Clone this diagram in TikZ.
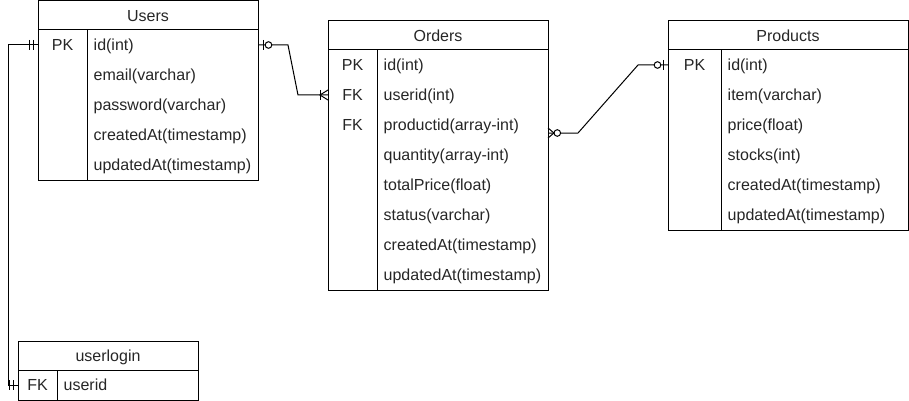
\documentclass[tikz,border=0pt]{standalone}
\usepackage{fontspec}
\setmainfont{Liberation Sans}
\usetikzlibrary{calc}
\begin{document}
\begin{tikzpicture}[x=1pt,y=-1pt,
  box/.style={draw=black, line width=1pt, anchor=north west, inner sep=0pt, outer sep=0pt},
  hdrtxt/.style={anchor=base, inner sep=0pt, font=\fontsize{16}{19}\selectfont, text=black!85},
  fld/.style={anchor=base west, inner sep=0pt, font=\fontsize{16}{19}\selectfont, text=black!85},
  keytxt/.style={anchor=base, inner sep=0pt, font=\fontsize{16}{19}\selectfont, text=black!85},
  rowspan/.style={inner sep=0pt, outer sep=0pt, minimum height=30pt},
  conn/.style={draw=black, line width=1pt},
  ermark/.style={draw=black, line width=1pt},
  ring/.style={draw=black, line width=1pt, fill=white}
]
\useasboundingbox (0,0) rectangle (909,401);

% ---------- Users ----------
\node[box, minimum width=220pt, minimum height=29pt] (usersH) at (38,1) {};
\node[box, minimum width=220pt, minimum height=150pt] (usersB) at (38,30) {};
\draw[line width=1pt] (87,30) -- (87,180);
\node[hdrtxt] (usersT) at (148,21.3) {Users};
\node[rowspan, minimum width=220pt] (u1) at (148,45) {};
\node[keytxt] (u1k) at (62.5,50.8) {PK};
\node[fld] (u1t) at (93.5,50.8) {id(int)};
\node[fld] (u2t) at (93.5,80.8) {email(varchar)};
\node[fld] (u3t) at (93.5,110.8) {password(varchar)};
\node[fld] (u4t) at (93.5,140.8) {createdAt(timestamp)};
\node[fld] (u5t) at (93.5,170.8) {updatedAt(timestamp)};

% ---------- Orders ----------
\node[box, minimum width=220pt, minimum height=29pt] (ordersH) at (328,21) {};
\node[box, minimum width=220pt, minimum height=240pt] (ordersB) at (328,50) {};
\draw[line width=1pt] (377,50) -- (377,290);
\node[hdrtxt] (ordersT) at (438,41.3) {Orders};
\node[rowspan, minimum width=220pt] (o2) at (438,95) {};
\node[rowspan, minimum width=220pt] (o3) at (438,125) {};
\node[keytxt] (o1k) at (352.5,70.8) {PK};
\node[keytxt] (o2k) at (352.5,100.8) {FK};
\node[keytxt] (o3k) at (352.5,130.8) {FK};
\node[fld] (o1t) at (383.5,70.8) {id(int)};
\node[fld] (o2t) at (383.5,100.8) {userid(int)};
\node[fld] (o3t) at (383.5,130.8) {productid(array-int)};
\node[fld] (o4t) at (383.5,160.8) {quantity(array-int)};
\node[fld] (o5t) at (383.5,190.8) {totalPrice(float)};
\node[fld] (o6t) at (383.5,220.8) {status(varchar)};
\node[fld] (o7t) at (383.5,250.8) {createdAt(timestamp)};
\node[fld] (o8t) at (383.5,280.8) {updatedAt(timestamp)};

% ---------- Products ----------
\node[box, minimum width=240pt, minimum height=29pt] (prodH) at (668,21) {};
\node[box, minimum width=240pt, minimum height=180pt] (prodB) at (668,50) {};
\draw[line width=1pt] (721,50) -- (721,230);
\node[hdrtxt] (prodT) at (788,41.3) {Products};
\node[rowspan, minimum width=240pt] (p1) at (788,65) {};
\node[keytxt] (p1k) at (694.5,70.8) {PK};
\node[fld] (p1t) at (727.5,70.8) {id(int)};
\node[fld] (p2t) at (727.5,100.8) {item(varchar)};
\node[fld] (p3t) at (727.5,130.8) {price(float)};
\node[fld] (p4t) at (727.5,160.8) {stocks(int)};
\node[fld] (p5t) at (727.5,190.8) {createdAt(timestamp)};
\node[fld] (p6t) at (727.5,220.8) {updatedAt(timestamp)};

% ---------- userlogin ----------
\node[box, minimum width=180pt, minimum height=29pt] (loginH) at (18,341) {};
\node[box, minimum width=180pt, minimum height=30pt] (loginB) at (18,370) {};
\draw[line width=1pt] (57,370) -- (57,400);
\node[hdrtxt] (loginT) at (108,361.3) {userlogin};
\node[rowspan, minimum width=180pt] (l1) at (108,385) {};
\node[keytxt] (l1k) at (37.5,390.8) {FK};
\node[fld] (l1t) at (63.5,390.8) {userid};

% ---------- connectors ----------
\draw[conn] (u1.east) -- ++(30,0) -- ($(o2.west)+(-30,0)$) -- (o2.west);
\draw[conn] ([yshift=-8pt]o3.east) -- ++(30,0) -- ($(p1.west)+(-30,0)$) -- (p1.west);
\draw[conn] (u1.west) -- ++(-30,0) |- (l1.west);

% Users end: zero or one
\draw[ermark] ($(u1.east)+(5,-5)$) -- ++(0,10);
\draw[ring] ($(u1.east)+(10.5,0)$) circle (3.3pt);
% Orders userid end: one or many
\draw[ermark] ($(o2.west)+(-8,-5)$) -- ++(0,10);
\draw[ermark] ($(o2.west)+(0,-5)$) -- ($(o2.west)+(-8,0)$) -- ($(o2.west)+(0,5)$);
% Orders productid end: zero or many
\draw[ermark] ($([yshift=-8pt]o3.east)+(0,-5)$) -- ($([yshift=-8pt]o3.east)+(6,0)$) -- ($([yshift=-8pt]o3.east)+(0,5)$);
\draw[ring] ($([yshift=-8pt]o3.east)+(9.3,0)$) circle (3.3pt);
% Products end: zero or one
\draw[ermark] ($(p1.west)+(-5,-5)$) -- ++(0,10);
\draw[ring] ($(p1.west)+(-10.5,0)$) circle (3.3pt);
% Users / userlogin ends: exactly one
\draw[ermark] ($(u1.west)+(-5,-5)$) -- ++(0,10);
\draw[ermark] ($(u1.west)+(-9,-5)$) -- ++(0,10);
\draw[ermark] ($(l1.west)+(-4.5,-5)$) -- ++(0,10);
\draw[ermark] ($(l1.west)+(-8.5,-5)$) -- ++(0,10);
\end{tikzpicture}
\end{document}
